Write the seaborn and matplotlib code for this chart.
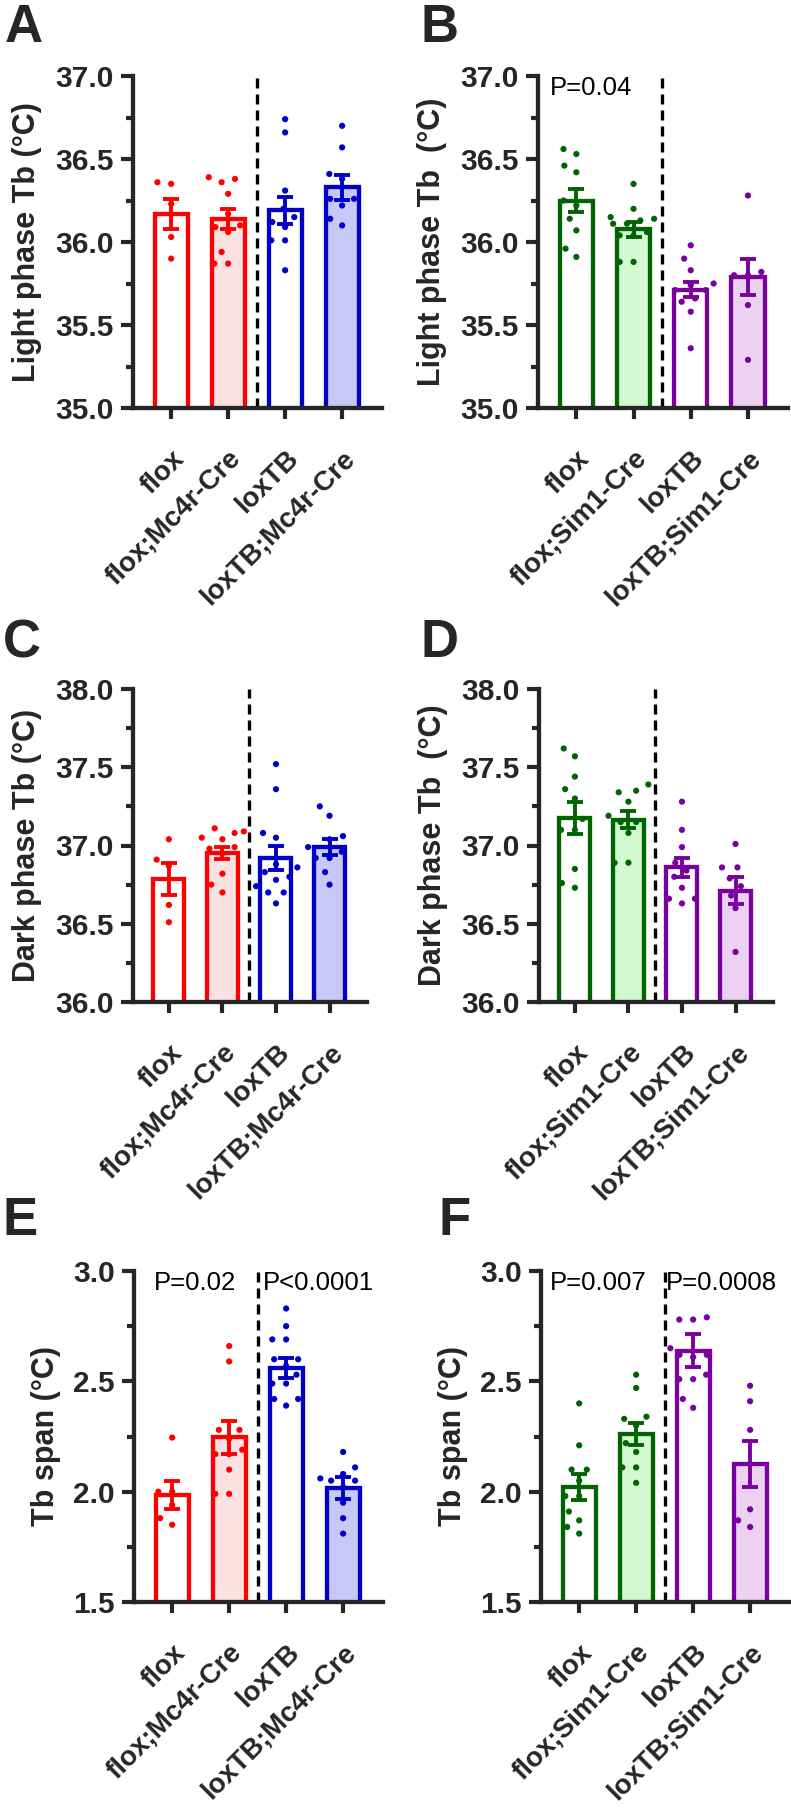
import matplotlib
matplotlib.use('Agg')
import numpy as np
import pandas as pd
import matplotlib.pyplot as plt
from matplotlib.path import Path
from matplotlib.ticker import MultipleLocator, FormatStrFormatter
import seaborn as sns

sns.set_style('ticks')
plt.rcParams['font.family'] = ['Liberation Sans', 'DejaVu Sans']
plt.rcParams['font.weight'] = 'bold'

# groups and colours
groups_mc4r = ['flox', 'flox;Mc4r-Cre', 'loxTB', 'loxTB;Mc4r-Cre']
groups_sim1 = ['flox', 'flox;Sim1-Cre', 'loxTB', 'loxTB;Sim1-Cre']
edge_mc4r = ['#ff0000', '#ff0000', '#0000c8', '#0000c8']
fill_mc4r = ['#ffffff', '#ffdede', '#ffffff', '#c0c0ff']
edge_sim1 = ['#006400', '#006400', '#7b00a0', '#7b00a0']
fill_sim1 = ['#ffffff', '#ccffcc', '#ffffff', '#eecdf5']

# A: light phase Tb, Mc4r-Cre
light_mc4r_mean = [36.17, 36.14, 36.19, 36.33]
light_mc4r_sem = [0.09, 0.06, 0.08, 0.075]
light_mc4r_pts = [
    [36.35, 36.36, 36.23, 36.03, 35.90],
    [36.36, 36.39, 36.38, 36.29, 36.17, 36.10, 36.09, 36.06, 35.94, 35.87, 35.87],
    [36.74, 36.66, 36.31, 36.20, 36.15, 36.12, 36.09, 36.01, 36.01, 35.83],
    [36.70, 36.57, 36.41, 36.38, 36.26, 36.26, 36.22, 36.14, 36.10],
]

# B: light phase Tb, Sim1-Cre
light_sim1_mean = [36.25, 36.076, 35.712, 35.79]
light_sim1_sem = [0.07, 0.045, 0.045, 0.11]
light_sim1_pts = [
    [36.53, 36.56, 36.46, 36.42, 36.25, 36.22, 36.14, 36.07, 35.96, 35.91],
    [36.35, 36.20, 36.15, 36.14, 36.13, 36.11, 36.11, 36.06, 36.04, 36.04, 35.88, 35.88],
    [35.98, 35.90, 35.83, 35.75, 35.74, 35.71, 35.71, 35.66, 35.64, 35.58, 35.36],
    [36.28, 35.82, 35.80, 35.80, 35.62, 35.29],
]

# C: dark phase Tb, Mc4r-Cre
dark_mc4r_mean = [36.785, 36.951, 36.919, 36.989]
dark_mc4r_sem = [0.10, 0.04, 0.075, 0.05]
dark_mc4r_pts = [
    [37.04, 36.91, 36.87, 36.62, 36.51],
    [37.11, 37.09, 37.08, 37.05, 37.04, 36.99, 36.98, 36.95, 36.82, 36.75, 36.70],
    [37.52, 37.36, 37.08, 37.05, 36.88, 36.86, 36.83, 36.80, 36.78, 36.74, 36.70, 36.70, 36.63],
    [37.25, 37.19, 37.06, 37.04, 36.99, 36.96, 36.92, 36.92, 36.83, 36.75],
]

# D: dark phase Tb, Sim1-Cre
dark_sim1_mean = [37.175, 37.164, 36.861, 36.712]
dark_sim1_sem = [0.10, 0.055, 0.06, 0.085]
dark_sim1_pts = [
    [37.62, 37.57, 37.44, 37.36, 37.30, 37.17, 37.10, 37.10, 36.85, 36.76, 36.73],
    [37.39, 37.35, 37.34, 37.28, 37.19, 37.15, 37.15, 37.08, 36.89, 36.89],
    [37.28, 37.10, 36.99, 36.89, 36.84, 36.80, 36.73, 36.66, 36.66, 36.63],
    [37.01, 36.86, 36.86, 36.79, 36.74, 36.68, 36.60, 36.32],
]

# E: Tb span, Mc4r-Cre
span_mc4r_mean = [1.985, 2.246, 2.562, 2.015]
span_mc4r_sem = [0.063, 0.075, 0.045, 0.05]
span_mc4r_pts = [
    [2.245, 2.00, 2.00, 1.94, 1.88, 1.85],
    [2.66, 2.59, 2.28, 2.28, 2.24, 2.19, 2.17, 2.17, 2.10, 1.99, 1.99],
    [2.83, 2.75, 2.69, 2.69, 2.60, 2.60, 2.57, 2.53, 2.49, 2.49, 2.42, 2.42, 2.39],
    [2.18, 2.11, 2.08, 2.06, 2.05, 2.05, 2.02, 1.95, 1.88, 1.81],
]

# F: Tb span, Sim1-Cre
span_sim1_mean = [2.02, 2.261, 2.639, 2.124]
span_sim1_sem = [0.06, 0.05, 0.075, 0.105]
span_sim1_pts = [
    [2.40, 2.21, 2.10, 2.10, 2.05, 1.98, 1.98, 1.91, 1.87, 1.84, 1.81],
    [2.53, 2.47, 2.34, 2.33, 2.30, 2.22, 2.18, 2.11, 2.11, 2.04],
    [2.79, 2.78, 2.78, 2.65, 2.62, 2.62, 2.61, 2.53, 2.51, 2.51, 2.42, 2.38],
    [2.48, 2.41, 2.28, 1.92, 1.87, 1.84],
]

W, H = 791, 1814
fig = plt.figure(figsize=(W / 100, H / 100), dpi=100)

# dot marker drawn smaller than its nominal size, so the swarm spreads like GraphPad
dot = Path.make_compound_path(Path([(1.0, 0.0)], [Path.MOVETO]),
                              Path.circle((0.0, 0.0), 0.47))


def px_rect(l, r, t, b):
    return [l / W, 1 - b / H, (r - l) / W, (b - t) / H]


def draw_panel(rect, groups, means, sems, pts, edges, fills, ylim, ylabel, pvals):
    ax = fig.add_axes(rect)
    bars = pd.DataFrame({'group': groups, 'mean': means})
    sns.barplot(data=bars, x='group', y='mean', hue='group', order=groups,
                palette=fills, width=0.58, linewidth=3.1, legend=False, ax=ax,
                zorder=2)
    for patch, ec in zip(ax.patches, edges):
        patch.set_edgecolor(ec)
        patch.set_linewidth(3.1)
    dots = pd.DataFrame({'group': np.repeat(groups, [len(p) for p in pts]),
                         'value': np.concatenate(pts)})
    sns.swarmplot(data=dots, x='group', y='value', hue='group', order=groups,
                  palette=edges, size=9.5, marker=dot, legend=False, ax=ax,
                  zorder=3, warn_thresh=1)
    for i in range(len(groups)):
        ax.errorbar(i, means[i], yerr=sems[i], fmt='none', ecolor=edges[i],
                    elinewidth=2.8, capsize=6, capthick=2.8, zorder=4)
    ax.axvline(1.5, color='black', linestyle=(0, (3, 1.8)), linewidth=2.4, zorder=1)

    ax.set_xlim(-0.67, 3.7)
    ax.set_ylim(*ylim)
    ax.yaxis.set_major_locator(MultipleLocator(0.5))
    ax.yaxis.set_minor_locator(MultipleLocator(0.25))
    ax.yaxis.set_major_formatter(FormatStrFormatter('%.1f'))
    ax.set_xticks(range(len(groups)))
    ax.set_xticklabels(groups, rotation=45, ha='right', va='top',
                       rotation_mode='anchor', fontsize=20, fontweight='bold')
    ax.tick_params(axis='y', which='major', length=8.6, width=3, labelsize=21.5, pad=5)
    ax.tick_params(axis='y', which='minor', length=5, width=3)
    ax.tick_params(axis='x', length=8, width=3, pad=19)
    for s in ['top', 'right']:
        ax.spines[s].set_visible(False)
    for s in ['left', 'bottom']:
        ax.spines[s].set_linewidth(3.1)
    ax.set_xlabel('')
    ax.set_ylabel(ylabel, fontsize=22, fontweight='bold')
    axw = rect[2] * W
    ax.yaxis.set_label_coords(-91 / axw if ylim[1] > 10 else -73 / axw, 0.5)
    for x, txt in pvals:
        ax.text(x, ylim[1], txt, ha='left', va='top', fontsize=18.5,
                fontweight='normal', color='black')
    return ax


draw_panel(px_rect(133, 382, 76, 408), groups_mc4r, light_mc4r_mean, light_mc4r_sem,
           light_mc4r_pts, edge_mc4r, fill_mc4r, (35.0, 37.0), 'Light phase Tb (°C)', [])
draw_panel(px_rect(538, 788, 76, 408), groups_sim1, light_sim1_mean, light_sim1_sem,
           light_sim1_pts, edge_sim1, fill_sim1, (35.0, 37.0), 'Light phase Tb  (°C)',
           [(-0.47, 'P=0.04')])
draw_panel(px_rect(133, 367, 689, 1002), groups_mc4r, dark_mc4r_mean, dark_mc4r_sem,
           dark_mc4r_pts, edge_mc4r, fill_mc4r, (36.0, 38.0), 'Dark phase Tb (°C)', [])
draw_panel(px_rect(539, 773, 689, 1002), groups_sim1, dark_sim1_mean, dark_sim1_sem,
           dark_sim1_pts, edge_sim1, fill_sim1, (36.0, 38.0), 'Dark phase Tb  (°C)', [])
draw_panel(px_rect(134, 383, 1271, 1602), groups_mc4r, span_mc4r_mean, span_mc4r_sem,
           span_mc4r_pts, edge_mc4r, fill_mc4r, (1.5, 3.0), 'Tb span (°C)',
           [(-0.32, 'P=0.02'), (1.59, 'P<0.0001')])
draw_panel(px_rect(541, 790, 1271, 1602), groups_sim1, span_sim1_mean, span_sim1_sem,
           span_sim1_pts, edge_sim1, fill_sim1, (1.5, 3.0), 'Tb span (°C)',
           [(-0.52, 'P=0.007'), (1.53, 'P=0.0008')])

# panel letters
for txt, x, y in [('A', 5, 3), ('B', 421, 3), ('C', 3, 618), ('D', 420, 618),
                  ('E', 3, 1196), ('F', 438, 1196)]:
    fig.text(x / W, 1 - y / H, txt, ha='left', va='top', fontsize=38, fontweight='bold')

fig.savefig('out.png', dpi=100)
